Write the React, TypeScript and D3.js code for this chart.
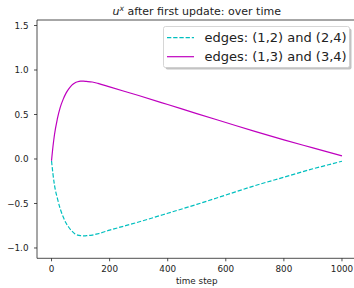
import React, { useRef, useEffect } from 'react';
import * as d3 from 'd3';

// time steps
const timeSteps = [0, 5, 10, 20, 30, 40, 50, 60, 70, 80, 90, 100, 110, 120, 140, 160, 200, 300, 400, 500, 600, 700, 800, 900, 950, 1000];

// edges (1,2) and (2,4)
const edges12 = [-0.02, -0.17, -0.29, -0.44, -0.56, -0.65, -0.72, -0.77, -0.81, -0.84, -0.855, -0.862, -0.865, -0.862, -0.855, -0.84, -0.80, -0.708, -0.61, -0.51, -0.405, -0.30, -0.205, -0.11, -0.068, -0.025];

// edges (1,3) and (3,4)
const edges13 = [-0.02, 0.14, 0.27, 0.45, 0.58, 0.67, 0.74, 0.79, 0.83, 0.855, 0.868, 0.874, 0.875, 0.872, 0.865, 0.85, 0.81, 0.713, 0.612, 0.51, 0.41, 0.31, 0.215, 0.125, 0.08, 0.035];

const xTicks = [0, 200, 400, 600, 800, 1000];
const yTicks = [-1.0, -0.5, 0.0, 0.5, 1.0, 1.5];

const seriesList = [
  { label: 'edges: (1,2) and (2,4)', values: edges12, color: '#00bfbf', dash: '4.3,1.9' },
  { label: 'edges: (1,3) and (3,4)', values: edges13, color: '#bf00bf', dash: null },
];

const W = 354;
const H = 288;

const App: React.FC = () => {
  const svgRef = useRef<SVGSVGElement>(null);

  useEffect(() => {
    if (!svgRef.current) return;
    const svg = d3.select(svgRef.current);
    svg.selectAll('*').remove();

    const left = 37;
    const right = 356.5;
    const top = 20;
    const bottom = 258.3;
    const font = 'DejaVu Sans, sans-serif';
    const tickSize = 8.8;

    const x = d3.scaleLinear().domain([-50, 1050]).range([left, right]);
    const y = d3.scaleLinear().domain([-1.116, 1.562]).range([bottom, top]);

    const line = d3
      .line<number>()
      .x((d, i) => x(timeSteps[i]))
      .y(d => y(d))
      .curve(d3.curveMonotoneX);

    // Curves
    seriesList.forEach(s => {
      const p = svg
        .append('path')
        .attr('d', line(s.values) || '')
        .attr('fill', 'none')
        .attr('stroke', s.color)
        .attr('stroke-width', 1.2);
      if (s.dash) p.attr('stroke-dasharray', s.dash);
    });

    // Spines (right one falls outside the cropped image)
    const spine = '#222';
    svg.append('line').attr('x1', left).attr('x2', left).attr('y1', top).attr('y2', bottom).attr('stroke', spine).attr('stroke-width', 0.8);
    svg.append('line').attr('x1', left).attr('x2', right).attr('y1', bottom).attr('y2', bottom).attr('stroke', spine).attr('stroke-width', 0.8);
    svg.append('line').attr('x1', left).attr('x2', right).attr('y1', top).attr('y2', top).attr('stroke', spine).attr('stroke-width', 0.8);

    // X ticks
    xTicks.forEach(t => {
      svg.append('line').attr('x1', x(t)).attr('x2', x(t)).attr('y1', bottom).attr('y2', bottom + 3).attr('stroke', spine).attr('stroke-width', 0.8);
      svg.append('text')
        .attr('x', x(t))
        .attr('y', bottom + 13.5)
        .attr('text-anchor', 'middle')
        .attr('font-family', font)
        .attr('font-size', tickSize)
        .attr('fill', '#222')
        .text(d3.format('d')(t));
    });

    // Y ticks
    yTicks.forEach(t => {
      svg.append('line').attr('x1', left - 3).attr('x2', left).attr('y1', y(t)).attr('y2', y(t)).attr('stroke', spine).attr('stroke-width', 0.8);
      svg.append('text')
        .attr('x', left - 8.5)
        .attr('y', y(t))
        .attr('dy', '0.35em')
        .attr('text-anchor', 'end')
        .attr('font-family', font)
        .attr('font-size', tickSize)
        .attr('fill', '#222')
        .text(d3.format('.1f')(t).replace('-', '\u2212'));
    });

    // Axis label
    svg.append('text')
      .attr('x', (left + right) / 2)
      .attr('y', 284)
      .attr('text-anchor', 'middle')
      .attr('font-family', font)
      .attr('font-size', tickSize)
      .attr('fill', '#222')
      .text('time step');

    // Title
    const title = svg.append('text')
      .attr('x', (left + right) / 2)
      .attr('y', 15)
      .attr('text-anchor', 'middle')
      .attr('font-family', font)
      .attr('font-size', 11)
      .attr('fill', '#222');
    title.append('tspan').attr('font-style', 'italic').text('u');
    title.append('tspan').attr('font-style', 'italic').attr('font-size', 7.7).attr('dy', -4).text('x');
    title.append('tspan').attr('dy', 4).text(' after first update: over time');

    // Legend
    const lx = 163.5;
    const ly = 26.5;
    const lw = 186;
    const lh = 41;
    svg.append('rect')
      .attr('x', lx + 2).attr('y', ly + 2).attr('width', lw).attr('height', lh)
      .attr('rx', 2).attr('fill', '#888').attr('opacity', 0.5);
    svg.append('rect')
      .attr('x', lx).attr('y', ly).attr('width', lw).attr('height', lh)
      .attr('rx', 2).attr('fill', '#fff').attr('stroke', '#ccc').attr('stroke-width', 0.8);

    seriesList.forEach((s, i) => {
      const ry = 37.7 + i * 19;
      const h = svg.append('line')
        .attr('x1', lx + 3.5).attr('x2', lx + 30.5)
        .attr('y1', ry).attr('y2', ry)
        .attr('stroke', s.color).attr('stroke-width', 1.2);
      if (s.dash) h.attr('stroke-dasharray', s.dash);
      svg.append('text')
        .attr('x', 204.5)
        .attr('y', ry)
        .attr('dy', '0.36em')
        .attr('font-family', font)
        .attr('font-size', 13)
        .attr('fill', '#222')
        .text(s.label);
    });
  }, []);

  return (
    <svg
      ref={svgRef}
      width={W}
      height={H}
      style={{ position: 'absolute', left: 0, top: 0, background: '#fff' }}
    />
  );
};

export default App;
